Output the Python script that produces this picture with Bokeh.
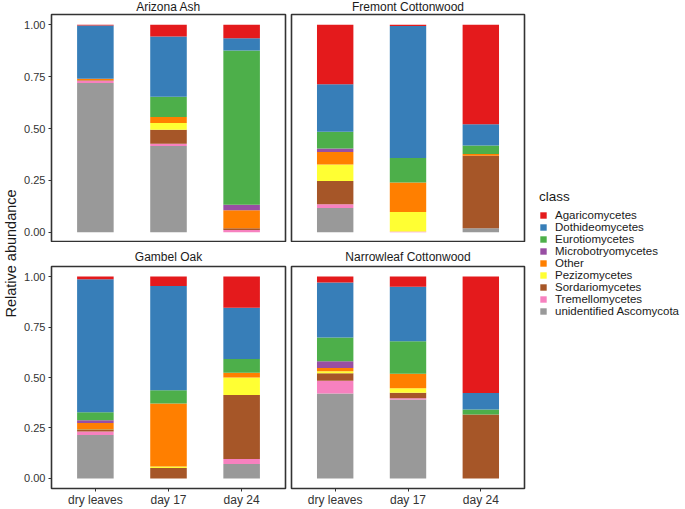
import math
from bokeh.plotting import figure
from bokeh.layouts import row, column
from bokeh.models import Range1d, FixedTicker, Legend, LegendItem, Label, ColumnDataSource
from bokeh.embed import file_html
from bokeh.resources import INLINE

trees = ["Arizona Ash", "Fremont Cottonwood", "Gambel Oak", "Narrowleaf Cottonwood"]
stages = ["dry leaves", "day 17", "day 24"]
classes = ["Agaricomycetes", "Dothideomycetes", "Eurotiomycetes", "Microbotryomycetes",
           "Other", "Pezizomycetes", "Sordariomycetes", "Tremellomycetes",
           "unidentified Ascomycota"]
colors = ["#E41A1C", "#377EB8", "#4DAF4A", "#984EA3", "#FF7F00", "#FFFF33",
          "#A65628", "#F781BF", "#999999"]
y_ticks = [0.0, 0.25, 0.5, 0.75, 1.0]

# values: Arizona Ash (dry, d17, d24), Fremont Cottonwood (...), Gambel Oak (...), Narrowleaf Cottonwood (...)
agaricomycetes = [0.003, 0.056, 0.065, 0.287, 0.005, 0.479, 0.013, 0.047, 0.154, 0.029, 0.050, 0.577]
dothideomycetes = [0.257, 0.291, 0.059, 0.229, 0.637, 0.103, 0.659, 0.516, 0.254, 0.273, 0.270, 0.082]
eurotiomycetes = [0.000, 0.097, 0.744, 0.081, 0.119, 0.041, 0.040, 0.066, 0.068, 0.118, 0.162, 0.024]
microbotryomycetes = [0.000, 0.000, 0.027, 0.016, 0.000, 0.000, 0.013, 0.000, 0.000, 0.033, 0.000, 0.000]
other = [0.007, 0.029, 0.086, 0.061, 0.142, 0.009, 0.030, 0.312, 0.024, 0.016, 0.071, 0.000]
pezizomycetes = [0.000, 0.033, 0.000, 0.079, 0.094, 0.000, 0.002, 0.008, 0.087, 0.010, 0.023, 0.000]
sordariomycetes = [0.003, 0.068, 0.009, 0.112, 0.000, 0.349, 0.010, 0.051, 0.317, 0.037, 0.027, 0.317]
tremellomycetes = [0.010, 0.011, 0.010, 0.019, 0.003, 0.000, 0.018, 0.000, 0.025, 0.063, 0.006, 0.000]
unidentified_ascomycota = [0.720, 0.415, 0.000, 0.116, 0.000, 0.019, 0.215, 0.000, 0.071, 0.421, 0.391, 0.000]

series = [agaricomycetes, dothideomycetes, eurotiomycetes, microbotryomycetes, other,
          pezizomycetes, sordariomycetes, tremellomycetes, unidentified_ascomycota]

FONT = "Liberation Sans"
TXT = "#333333"
DARK = "#1a1a1a"


def blank(width, height, bl=0, br=0, bt=0, bb=0):
    f = figure(width=width, height=height, x_range=Range1d(0, 1), y_range=Range1d(0, 1),
               output_backend="svg", toolbar_location=None, x_axis_location=None,
               y_axis_location=None, min_border_left=bl, min_border_right=br,
               min_border_top=bt, min_border_bottom=bb)
    f.outline_line_color = None
    f.grid.visible = False
    return f


def panel(idx, left, bottom):
    ns = len(stages)
    bl = 34 if left else 3
    fw = 234 if left else 233
    br = 3 if left else 2
    st = 23 if bottom else 13          # strip height
    fh = 225 if bottom else 228
    bb = 18 if bottom else 0
    # strip with facet title
    s = blank(bl + fw + br, st, bl=bl, br=br)
    s.add_layout(Label(x=0.5, y=(9.0 if bottom else 7.0) / st, text=trees[idx],
                       text_align="center", text_baseline="middle", text_font=FONT,
                       text_font_size="12px", text_color=DARK))
    p = figure(width=bl + fw + br, height=1 + fh + bb,
               x_range=Range1d(0.4, ns + 0.6), y_range=Range1d(-0.05, 1.05),
               output_backend="svg", toolbar_location=None,
               x_axis_location="below" if bottom else None,
               y_axis_location="left" if left else None,
               min_border_left=bl, min_border_right=br, min_border_top=1, min_border_bottom=bb)
    data = {"x": list(range(1, ns + 1))}
    for c, sv in zip(classes, series):
        data[c] = sv[idx * ns:(idx + 1) * ns]
    src = ColumnDataSource(data)
    p.vbar_stack(classes[::-1], x="x", width=0.5, color=colors[::-1], line_color=None, source=src)
    p.xgrid.visible = False
    p.ygrid.visible = False
    p.outline_line_color = "#333333"
    p.outline_line_width = 1.6
    p.background_fill_color = "white"
    p.border_fill_color = "white"
    for ax in p.axis:
        ax.axis_line_color = None
        ax.major_tick_line_color = TXT
        ax.major_tick_out = 3
        ax.major_tick_in = 0
        ax.minor_tick_line_color = None
        ax.major_label_text_font = FONT
        ax.major_label_text_color = TXT
    if bottom:
        p.xaxis.ticker = FixedTicker(ticks=list(range(1, ns + 1)))
        p.xaxis.major_label_overrides = {i + 1: s for i, s in enumerate(stages)}
        p.xaxis.major_label_text_font_size = "12px"
        p.xaxis.major_label_standoff = 1
    if left:
        p.yaxis.ticker = FixedTicker(ticks=y_ticks)
        p.yaxis.major_label_overrides = {t: f"{t:.2f}" for t in y_ticks}
        p.yaxis.major_label_text_font_size = "11px"
        p.yaxis.major_label_standoff = 3
    return column(s, p)


c1 = panel(0, True, False)
c2 = panel(1, False, False)
c3 = panel(2, True, True)
c4 = panel(3, False, True)

total_h = 509

# y-axis title
yl = blank(17, total_h, bt=14, bb=17)
yl.add_layout(Label(x=10 / 17, y=0.5, text="Relative abundance", angle=math.pi / 2,
                    text_align="center", text_baseline="middle", text_font=FONT,
                    text_font_size="14.5px", text_color=DARK))

# legend figure
lf = blank(159, total_h)
items = []
for c, col in zip(classes, colors):
    r = lf.vbar(x=[-5], top=[0], bottom=[0], width=0.5, color=col, line_color=None)
    items.append(LegendItem(label=c, renderers=[r]))
leg = Legend(items=items, location=(13, 175), title="class")
leg.title_text_font = FONT
leg.title_text_font_size = "13.5px"
leg.title_text_font_style = "normal"
leg.title_text_color = DARK
leg.title_standoff = 5
leg.label_text_font = FONT
leg.label_text_font_size = "11.5px"
leg.label_text_color = DARK
leg.label_text_line_height = 0.9
leg.label_height = 10
leg.label_standoff = 8
leg.glyph_height = 8
leg.glyph_width = 8
leg.spacing = 0
leg.padding = 0
leg.margin = 0
leg.border_line_color = None
leg.background_fill_alpha = 0
lf.add_layout(leg)

layout = row(yl, column(row(c1, c2), row(c3, c4)), lf)

with open("out.html", "w") as f:
    f.write(file_html(layout, INLINE))
